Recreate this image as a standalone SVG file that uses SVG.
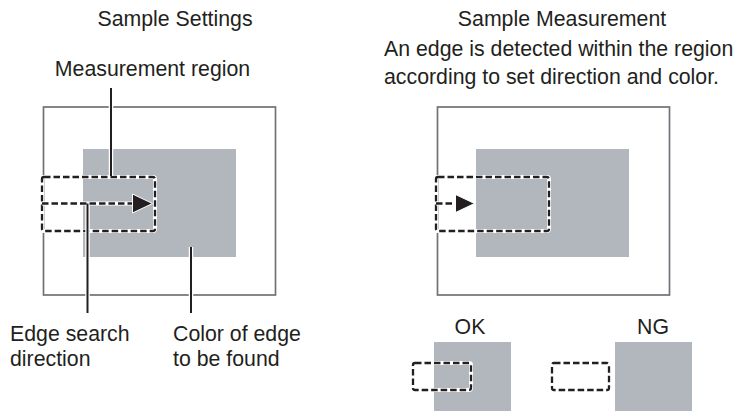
<svg xmlns="http://www.w3.org/2000/svg" width="736" height="411" viewBox="0 0 736 411">
<style>
text{font-family:"Liberation Sans",Arial,sans-serif;font-size:21.3px;fill:#231f20}
.frame{fill:none;stroke:#6e7377;stroke-width:1.7}
.obj{fill:#b2b7be}
.halo{fill:none;stroke:#fff;stroke-width:4}
.dash{fill:none;stroke:#231f20;stroke-width:2.3;stroke-dasharray:6.5 3}
.lead{stroke:#231f20;stroke-width:2}
.leadh{stroke:#fff;stroke-width:4.5}
.head{fill:#231f20;stroke:#fff;stroke-width:1}
</style>
<g id="titles">
<text x="175" y="26" text-anchor="middle">Sample Settings</text>
<text x="562" y="26" text-anchor="middle">Sample Measurement</text>
<text x="384" y="55.5">An edge is detected within the region</text>
<text x="384" y="84">according to set direction and color.</text>
</g>
<g id="settings-frame">
<rect class="frame" x="43.5" y="107" width="232" height="188"/>
<rect class="obj" x="83" y="149" width="153" height="108"/>
</g>
<g id="settings-region">
<rect class="halo" x="42" y="177" width="113" height="54" rx="2"/>
<rect class="dash" x="42" y="177" width="113" height="54" rx="2"/>
<line class="halo" x1="42" y1="203.5" x2="134" y2="203.5"/>
<line class="dash" x1="42" y1="203.5" x2="134" y2="203.5"/>
<path class="head" d="M132.5,194 L152.5,203.5 L132.5,213 Z"/>
</g>
<g id="measurement-frame">
<rect class="frame" x="437.5" y="107" width="232" height="188"/>
<rect class="obj" x="476" y="149" width="153" height="108"/>
</g>
<g id="measurement-region">
<rect class="halo" x="436" y="177" width="113" height="54" rx="2"/>
<rect class="dash" x="436" y="177" width="113" height="54" rx="2"/>
<line class="halo" x1="436" y1="203.5" x2="457" y2="203.5"/>
<line class="dash" x1="436" y1="203.5" x2="457" y2="203.5"/>
<path class="head" d="M455.5,194.5 L474.5,203.5 L455.5,212.5 Z"/>
</g>
<g id="ok">
<text x="470" y="334" text-anchor="middle">OK</text>
<rect class="obj" x="434" y="342" width="77" height="69"/>
<rect class="halo" x="413" y="363" width="58" height="27" rx="2"/>
<rect class="dash" x="413" y="363" width="58" height="27" rx="2"/>
</g>
<g id="ng">
<text x="653" y="334" text-anchor="middle">NG</text>
<rect class="obj" x="615" y="342" width="77" height="69"/>
<rect class="halo" x="552" y="363" width="57" height="27" rx="2"/>
<rect class="dash" x="552" y="363" width="57" height="27" rx="2"/>
</g>
<g id="connectors">
<line class="leadh" x1="111" y1="88" x2="111" y2="176"/>
<line class="lead" x1="111" y1="88" x2="111" y2="176"/>
<line class="leadh" x1="87.5" y1="205" x2="87.5" y2="313"/>
<line class="lead" x1="87.5" y1="203.5" x2="87.5" y2="313"/>
<line class="leadh" x1="191" y1="247" x2="191" y2="313"/>
<line class="lead" x1="191" y1="247" x2="191" y2="313"/>
</g>
<g id="labels">
<text x="152.5" y="76" text-anchor="middle">Measurement region</text>
<text x="10" y="340.5">Edge search</text>
<text x="10" y="365.5">direction</text>
<text x="173" y="340.5">Color of edge</text>
<text x="173" y="365.5">to be found</text>
</g>
</svg>
